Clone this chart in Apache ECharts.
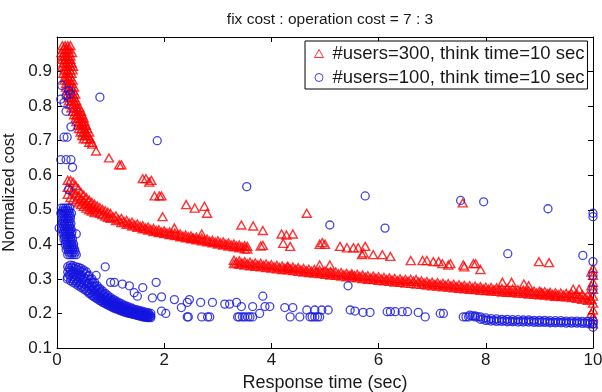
<!DOCTYPE html>
<html>
<head>
<meta charset="utf-8">
<script src="https://cdn.jsdelivr.net/npm/echarts@6/dist/echarts.min.js"></script>
<style>
  html, body { margin: 0; padding: 0; background: #fff; }
  #chart { width: 602px; height: 392px; }
</style>
</head>
<body>
<div id="chart"></div>
<script>
  // 标题和坐标轴文字
  const titleText = 'fix cost : operation cost = 7 : 3'
  const xName = 'Response time (sec)'
  const yName = 'Normalized cost'
  const redName = '#users=300, think time=10 sec'
  const blueName = '#users=100, think time=10 sec'

  // 红色三角：左上角的密集列，每行 [y, x1, x2, ...]
  const redTopRows = [
    [0.975, 0.1, 0.15, 0.2, 0.25],
    [0.965, 0.12, 0.17, 0.22],
    [0.955, 0.08, 0.13, 0.18, 0.23, 0.28],
    [0.945, 0.1, 0.15, 0.2, 0.25],
    [0.935, 0.1, 0.15, 0.2, 0.25],
    [0.925, 0.12, 0.17, 0.22, 0.27],
    [0.915, 0.1, 0.15, 0.2, 0.25, 0.3],
    [0.905, 0.14, 0.19, 0.24, 0.29],
    [0.895, 0.12, 0.17, 0.22, 0.27],
    [0.885, 0.15, 0.2, 0.25],
    [0.875, 0.14, 0.19, 0.24, 0.29],
    [0.865, 0.17, 0.22, 0.27],
    [0.855, 0.17, 0.22, 0.27, 0.32],
    [0.845, 0.2, 0.25, 0.3],
    [0.835, 0.2, 0.25, 0.3, 0.34],
    [0.825, 0.22, 0.27, 0.32],
    [0.815, 0.22, 0.27, 0.32, 0.36],
    [0.805, 0.25, 0.3, 0.35],
    [0.795, 0.27, 0.32, 0.37, 0.42],
    [0.785, 0.3, 0.35, 0.4, 0.45],
    [0.775, 0.32, 0.37, 0.42, 0.47],
    [0.765, 0.35, 0.4, 0.45, 0.5],
    [0.755, 0.36, 0.41, 0.46, 0.51],
    [0.745, 0.39, 0.44, 0.49, 0.54],
    [0.735, 0.41, 0.46, 0.51, 0.56],
    [0.725, 0.44, 0.49, 0.54, 0.6],
    [0.715, 0.47, 0.52, 0.58],
    [0.705, 0.5, 0.55, 0.62],
    [0.695, 0.6, 0.65]
  ]

  // 红色上带，每行 [x, y1, y2, ...]
  const redUpperBand = [
    [0.2, 0.585, 0.565, 0.545], [0.25, 0.585, 0.56, 0.535], [0.3, 0.58, 0.555, 0.53],
    [0.35, 0.57, 0.548, 0.525], [0.4, 0.56, 0.54, 0.52], [0.45, 0.55, 0.532, 0.515],
    [0.5, 0.542, 0.525, 0.51], [0.55, 0.535, 0.518, 0.505], [0.6, 0.528, 0.512, 0.5],
    [0.65, 0.522, 0.507, 0.496], [0.7, 0.516, 0.502, 0.492], [0.75, 0.511, 0.496],
    [0.8, 0.506, 0.49], [0.85, 0.501, 0.486], [0.9, 0.497, 0.482], [0.95, 0.493, 0.478],
    [1.0, 0.489, 0.475], [1.05, 0.479], [1.1, 0.482, 0.469], [1.15, 0.472], [1.2, 0.475, 0.463],
    [1.25, 0.466], [1.3, 0.469, 0.458], [1.35, 0.461], [1.4, 0.464, 0.453], [1.45, 0.456],
    [1.5, 0.459, 0.449], [1.55, 0.452], [1.6, 0.454, 0.445], [1.65, 0.447], [1.7, 0.45, 0.441],
    [1.75, 0.443], [1.8, 0.446, 0.437], [1.85, 0.44], [1.9, 0.442, 0.434], [1.95, 0.436],
    [2.0, 0.439, 0.431], [2.05, 0.433], [2.1, 0.436, 0.428], [2.15, 0.43], [2.2, 0.433, 0.425],
    [2.25, 0.427], [2.3, 0.43, 0.422], [2.35, 0.424], [2.4, 0.427, 0.419], [2.45, 0.421],
    [2.5, 0.424, 0.416], [2.55, 0.418], [2.6, 0.421, 0.413], [2.65, 0.415], [2.7, 0.418, 0.41],
    [2.75, 0.412], [2.8, 0.415, 0.407], [2.85, 0.409], [2.9, 0.412, 0.404], [2.95, 0.406],
    [3.0, 0.41, 0.401], [3.05, 0.404], [3.1, 0.407, 0.398], [3.15, 0.401], [3.2, 0.404, 0.395],
    [3.25, 0.398], [3.3, 0.401, 0.393], [3.35, 0.395], [3.4, 0.398, 0.39], [3.45, 0.393],
    [3.5, 0.396, 0.387], [3.55, 0.394, 0.386]
  ]

  // 红色下带，每行 [x, y1, y2]
  const redLowerBand = [
    [3.3, 0.354, 0.344], [3.35, 0.348], [3.4, 0.352, 0.342], [3.45, 0.346], [3.5, 0.35, 0.34],
    [3.55, 0.344], [3.6, 0.348, 0.338], [3.65, 0.342], [3.7, 0.346, 0.336], [3.75, 0.34],
    [3.8, 0.345, 0.335], [3.85, 0.339], [3.9, 0.343, 0.333], [3.95, 0.337], [4.0, 0.341, 0.331],
    [4.05, 0.335], [4.1, 0.339, 0.329], [4.15, 0.333], [4.2, 0.337, 0.327], [4.25, 0.331],
    [4.3, 0.336, 0.326], [4.35, 0.33], [4.4, 0.334, 0.324], [4.45, 0.328], [4.5, 0.332, 0.322],
    [4.55, 0.326], [4.6, 0.33, 0.32], [4.65, 0.324], [4.7, 0.328, 0.318], [4.75, 0.322],
    [4.8, 0.327, 0.317], [4.85, 0.321], [4.9, 0.325, 0.315], [4.95, 0.319], [5.0, 0.323, 0.313],
    [5.05, 0.317], [5.1, 0.321, 0.311], [5.15, 0.315], [5.2, 0.32, 0.31], [5.25, 0.314],
    [5.3, 0.318, 0.308], [5.35, 0.312], [5.4, 0.316, 0.306], [5.45, 0.31], [5.5, 0.315, 0.305],
    [5.55, 0.309], [5.6, 0.313, 0.303], [5.65, 0.307], [5.7, 0.311, 0.301], [5.75, 0.305],
    [5.8, 0.309, 0.299], [5.85, 0.303], [5.9, 0.308, 0.298], [5.95, 0.302], [6.0, 0.306, 0.296],
    [6.05, 0.3], [6.1, 0.304, 0.294], [6.15, 0.298], [6.2, 0.303, 0.293], [6.25, 0.297],
    [6.3, 0.301, 0.291], [6.35, 0.295], [6.4, 0.3, 0.29], [6.45, 0.294], [6.5, 0.298, 0.288],
    [6.55, 0.293], [6.6, 0.299, 0.287], [6.65, 0.293], [6.7, 0.298, 0.285], [6.75, 0.291],
    [6.8, 0.294, 0.284], [6.85, 0.288], [6.9, 0.292, 0.282], [6.95, 0.286], [7.0, 0.29, 0.28],
    [7.05, 0.284], [7.1, 0.289, 0.279], [7.15, 0.283], [7.2, 0.287, 0.277], [7.25, 0.281],
    [7.3, 0.286, 0.276], [7.35, 0.28], [7.4, 0.284, 0.274], [7.45, 0.278], [7.5, 0.283, 0.273],
    [7.55, 0.277], [7.6, 0.281, 0.271], [7.65, 0.275], [7.7, 0.28, 0.27], [7.75, 0.274],
    [7.8, 0.279, 0.269], [7.85, 0.273], [7.9, 0.277, 0.267], [7.95, 0.271], [8.0, 0.276, 0.266],
    [8.05, 0.27], [8.1, 0.275, 0.265], [8.15, 0.269], [8.2, 0.274, 0.264], [8.25, 0.268],
    [8.3, 0.272, 0.262], [8.35, 0.266], [8.4, 0.271, 0.261], [8.45, 0.265], [8.5, 0.27, 0.26],
    [8.55, 0.264], [8.6, 0.269, 0.259], [8.65, 0.263], [8.7, 0.268, 0.258], [8.75, 0.262],
    [8.8, 0.266, 0.256], [8.85, 0.26], [8.9, 0.265, 0.255], [8.95, 0.259], [9.0, 0.264, 0.254],
    [9.05, 0.258], [9.1, 0.263, 0.253], [9.15, 0.257], [9.2, 0.261, 0.251], [9.25, 0.255],
    [9.3, 0.26, 0.25], [9.35, 0.254], [9.4, 0.259, 0.249], [9.45, 0.253], [9.5, 0.258, 0.248],
    [9.55, 0.252], [9.6, 0.257, 0.246], [9.65, 0.25], [9.7, 0.256, 0.244], [9.75, 0.248],
    [9.8, 0.254, 0.241], [9.85, 0.246], [9.9, 0.252, 0.238], [9.95, 0.243],
    [9.97, 0.32, 0.28, 0.24, 0.2],
    [10.0, 0.33, 0.31, 0.29, 0.27, 0.25, 0.23, 0.21, 0.19, 0.17]
  ]

  // 红色散点 [x, y]
  const redSparse = [
    [0.37, 0.776], [0.47, 0.75], [0.54, 0.72], [0.66, 0.69], [0.73, 0.67], [0.97, 0.65],
    [1.16, 0.63], [1.2, 0.63], [1.6, 0.59], [1.66, 0.59], [1.72, 0.58], [1.76, 0.585],
    [1.82, 0.54], [1.91, 0.54], [1.95, 0.54], [1.97, 0.48], [2.19, 0.447], [2.41, 0.515],
    [2.57, 0.505], [2.75, 0.51], [2.8, 0.49], [2.53, 0.418], [2.7, 0.43], [3.44, 0.456],
    [3.66, 0.453], [3.84, 0.44], [3.84, 0.397], [3.8, 0.395], [4.19, 0.43], [4.28, 0.427],
    [4.4, 0.43], [4.22, 0.403], [4.35, 0.394], [4.31, 0.335], [4.66, 0.49], [4.9, 0.4],
    [5.0, 0.4], [4.95, 0.405], [5.28, 0.394], [5.41, 0.39], [5.53, 0.39], [5.62, 0.39],
    [5.75, 0.394], [5.69, 0.37], [5.72, 0.375], [5.9, 0.37], [6.07, 0.37], [6.22, 0.365],
    [6.6, 0.353], [6.82, 0.353], [6.9, 0.353], [7.02, 0.35], [7.12, 0.35], [7.19, 0.344],
    [7.34, 0.344], [7.3, 0.34], [7.58, 0.34], [7.6, 0.335], [7.77, 0.344], [7.81, 0.344],
    [7.9, 0.327], [4.9, 0.34], [5.09, 0.34], [5.5, 0.31], [7.57, 0.52], [8.31, 0.29],
    [8.48, 0.29], [8.71, 0.285], [8.8, 0.28], [8.99, 0.35], [9.18, 0.347], [9.03, 0.262],
    [9.18, 0.256], [9.3, 0.25], [9.63, 0.27], [9.74, 0.27]
  ]

  // 蓝色圆圈：左侧的竖列，每行 [y, x1, x2, ...]
  const blueColumnRows = [
    [0.505, 0.08, 0.12, 0.16, 0.2, 0.24],
    [0.497, 0.1, 0.14, 0.18, 0.22],
    [0.49, 0.07, 0.11, 0.15, 0.19, 0.23, 0.27],
    [0.482, 0.09, 0.13, 0.17, 0.21, 0.25],
    [0.475, 0.09, 0.13, 0.17, 0.21, 0.25],
    [0.467, 0.11, 0.15, 0.19, 0.23],
    [0.46, 0.1, 0.14, 0.18, 0.22, 0.26],
    [0.452, 0.12, 0.16, 0.2, 0.24],
    [0.445, 0.1, 0.14, 0.18, 0.22, 0.26],
    [0.437, 0.12, 0.16, 0.2, 0.24, 0.28],
    [0.43, 0.11, 0.15, 0.19, 0.23, 0.27],
    [0.422, 0.14, 0.18, 0.22, 0.26],
    [0.415, 0.13, 0.17, 0.21, 0.25, 0.29],
    [0.407, 0.16, 0.2, 0.24, 0.28],
    [0.4, 0.15, 0.19, 0.23, 0.27, 0.31],
    [0.392, 0.19, 0.23, 0.27, 0.31],
    [0.385, 0.17, 0.21, 0.25, 0.29, 0.33],
    [0.377, 0.22, 0.26, 0.3, 0.34],
    [0.37, 0.2, 0.24, 0.28, 0.32, 0.36]
  ]

  // 蓝色下带（左），每行 [x, y1, y2, ...]
  const blueLowerBand = [
    [0.2, 0.335, 0.32, 0.305], [0.225, 0.33, 0.312], [0.25, 0.34, 0.325, 0.31, 0.295],
    [0.275, 0.333, 0.316, 0.3], [0.3, 0.338, 0.322, 0.306, 0.29], [0.325, 0.33, 0.312, 0.295],
    [0.35, 0.335, 0.318, 0.3, 0.285], [0.375, 0.327, 0.308, 0.29], [0.4, 0.333, 0.315, 0.297, 0.28],
    [0.425, 0.324, 0.303, 0.284], [0.45, 0.33, 0.31, 0.29, 0.275], [0.475, 0.32, 0.298, 0.278],
    [0.5, 0.325, 0.305, 0.285, 0.27], [0.525, 0.315, 0.293, 0.273], [0.55, 0.32, 0.3, 0.28, 0.265],
    [0.575, 0.308, 0.286, 0.265], [0.6, 0.31, 0.29, 0.272, 0.258], [0.625, 0.298, 0.277, 0.259],
    [0.65, 0.3, 0.282, 0.265, 0.252], [0.675, 0.288, 0.269, 0.252], [0.7, 0.29, 0.274, 0.258, 0.247],
    [0.725, 0.278, 0.262, 0.247], [0.75, 0.28, 0.266, 0.252, 0.242], [0.775, 0.27, 0.255, 0.242],
    [0.8, 0.272, 0.258, 0.246, 0.237], [0.825, 0.262, 0.248, 0.237], [0.85, 0.265, 0.252, 0.24, 0.232],
    [0.875, 0.255, 0.242, 0.232], [0.9, 0.258, 0.246, 0.235, 0.228], [0.925, 0.248, 0.237, 0.228],
    [0.95, 0.252, 0.24, 0.23, 0.224], [0.975, 0.243, 0.232, 0.224], [1.0, 0.246, 0.235, 0.226, 0.22],
    [1.025, 0.238, 0.228, 0.22], [1.05, 0.241, 0.23, 0.222, 0.216], [1.075, 0.233, 0.223, 0.216],
    [1.1, 0.236, 0.226, 0.218, 0.213], [1.125, 0.229, 0.22, 0.213], [1.15, 0.232, 0.222, 0.215, 0.21],
    [1.175, 0.225, 0.217, 0.21], [1.2, 0.228, 0.218, 0.212, 0.207], [1.225, 0.221, 0.213, 0.207],
    [1.25, 0.224, 0.215, 0.209, 0.204], [1.275, 0.218, 0.21, 0.204], [1.3, 0.221, 0.212, 0.206, 0.202],
    [1.325, 0.215, 0.208, 0.202], [1.35, 0.218, 0.209, 0.203, 0.2], [1.375, 0.212, 0.205, 0.2],
    [1.4, 0.215, 0.206, 0.201, 0.198], [1.425, 0.209, 0.203, 0.198], [1.45, 0.212, 0.204, 0.199, 0.196],
    [1.475, 0.207, 0.2, 0.196], [1.5, 0.21, 0.202, 0.197, 0.194], [1.525, 0.205, 0.198, 0.194],
    [1.55, 0.208, 0.2, 0.195, 0.192], [1.575, 0.203, 0.196, 0.192], [1.6, 0.206, 0.198, 0.193, 0.19],
    [1.625, 0.201, 0.194, 0.19], [1.65, 0.204, 0.196, 0.191, 0.189], [1.675, 0.199, 0.192, 0.189],
    [1.7, 0.202, 0.194, 0.19, 0.188], [1.725, 0.197, 0.19], [1.75, 0.2, 0.192, 0.188]
  ]

  // 蓝色下带（右），每行 [x, y1, y2]
  const blueRightBand = [
    [7.7, 0.195], [7.75, 0.193], [7.8, 0.193], [7.85, 0.19], [7.9, 0.19, 0.183], [7.95, 0.184],
    [8.0, 0.187, 0.18], [8.05, 0.181], [8.1, 0.185, 0.178], [8.15, 0.18], [8.2, 0.184, 0.177],
    [8.25, 0.179], [8.3, 0.183, 0.177], [8.35, 0.179], [8.4, 0.183, 0.176], [8.45, 0.178],
    [8.5, 0.182, 0.176], [8.55, 0.178], [8.6, 0.182, 0.175], [8.65, 0.177], [8.7, 0.181, 0.175],
    [8.75, 0.177], [8.8, 0.181, 0.175], [8.85, 0.177], [8.9, 0.18, 0.174], [8.95, 0.176],
    [9.0, 0.18, 0.174], [9.05, 0.176], [9.1, 0.18, 0.174], [9.15, 0.176], [9.2, 0.179, 0.173],
    [9.25, 0.175], [9.3, 0.179, 0.173], [9.35, 0.175], [9.4, 0.179, 0.173], [9.45, 0.175],
    [9.5, 0.178, 0.172], [9.55, 0.174], [9.6, 0.178, 0.172], [9.65, 0.174], [9.7, 0.178, 0.172],
    [9.75, 0.174], [9.8, 0.177, 0.171], [9.85, 0.173], [9.9, 0.177, 0.171], [9.95, 0.173],
    [10.0, 0.177, 0.17]
  ]

  // 蓝色散点 [x, y]
  const blueSparse = [
    [0.09, 0.86], [0.22, 0.845], [0.07, 0.82], [0.17, 0.83], [0.25, 0.835], [0.13, 0.81],
    [0.17, 0.785], [0.26, 0.74], [0.13, 0.71], [0.19, 0.71], [0.8, 0.826], [1.87, 0.7],
    [0.07, 0.645], [0.17, 0.645], [0.26, 0.645], [0.29, 0.623], [0.22, 0.558], [0.04, 0.447],
    [0.36, 0.43], [0.19, 0.3], [0.73, 0.31], [0.9, 0.335], [1.0, 0.29], [1.07, 0.29],
    [1.22, 0.285], [1.35, 0.28], [1.44, 0.26], [1.5, 0.25], [1.6, 0.275], [1.78, 0.245],
    [1.85, 0.29], [1.95, 0.248], [1.95, 0.207], [2.03, 0.2], [2.19, 0.24], [2.32, 0.217],
    [2.43, 0.232], [2.47, 0.24], [2.43, 0.19], [2.45, 0.19], [2.68, 0.232], [2.7, 0.19],
    [2.81, 0.19], [2.85, 0.19], [2.9, 0.232], [3.13, 0.227], [3.22, 0.227], [3.35, 0.232],
    [3.44, 0.22], [3.37, 0.19], [3.46, 0.19], [3.56, 0.19], [3.65, 0.19], [3.4, 0.19],
    [3.5, 0.19], [3.6, 0.19], [3.65, 0.22], [3.84, 0.25], [3.88, 0.22], [3.97, 0.22],
    [3.78, 0.2], [3.54, 0.567], [4.25, 0.217], [4.4, 0.217], [4.35, 0.19], [4.53, 0.19],
    [4.66, 0.21], [4.81, 0.21], [4.94, 0.21], [5.06, 0.21], [4.72, 0.19], [4.81, 0.19],
    [4.9, 0.19], [4.76, 0.19], [4.86, 0.19], [5.47, 0.21], [5.56, 0.207], [5.71, 0.203],
    [5.84, 0.203], [6.16, 0.205], [6.22, 0.205], [6.31, 0.205], [6.44, 0.205], [6.54, 0.205],
    [6.74, 0.203], [6.87, 0.19], [7.15, 0.2], [7.21, 0.2], [7.58, 0.19], [7.63, 0.19],
    [7.68, 0.19], [7.8, 0.19], [5.75, 0.54], [5.09, 0.456], [6.12, 0.447], [5.43, 0.28],
    [7.53, 0.527], [7.96, 0.523], [8.41, 0.373], [9.16, 0.503], [9.81, 0.368],
    [10, 0.49], [10, 0.48], [10, 0.35], [10, 0.31], [10, 0.27], [10, 0.16], [10, 0.17]
  ]

  // [x, y1, y2...] 展开成点
  const fromXRows = (rows) => {
    const pts = []
    rows.forEach((r) => {
      for (let i = 1; i < r.length; i++) pts.push([r[0], r[i]])
    })
    return pts
  }
  // [y, x1, x2...] 展开成点
  const fromYRows = (rows) => {
    const pts = []
    rows.forEach((r) => {
      for (let i = 1; i < r.length; i++) pts.push([r[i], r[0]])
    })
    return pts
  }

  const redData = [].concat(fromYRows(redTopRows), fromXRows(redUpperBand), fromXRows(redLowerBand), redSparse)
  const blueData = [].concat(fromYRows(blueColumnRows), fromXRows(blueLowerBand), fromXRows(blueRightBand), blueSparse)

  const red = '#ff0000'
  const blue = '#1515e0'
  const font = 'Liberation Sans, Arial, sans-serif'
  const txt = '#1a1a1a'

  const baseX = {
    type: 'value',
    min: 0,
    max: 10,
    interval: 2,
    splitLine: { show: false },
    axisLine: { show: true, onZero: false, lineStyle: { color: '#000', width: 1 } },
    axisTick: { show: true, inside: true, length: 5, lineStyle: { color: '#000' } }
  }
  const baseY = {
    type: 'value',
    min: 0.1,
    max: 1.0,
    interval: 0.1,
    splitLine: { show: false },
    axisLine: { show: true, onZero: false, lineStyle: { color: '#000', width: 1 } },
    axisTick: { show: true, inside: true, length: 5, lineStyle: { color: '#000' } }
  }

  const chart = echarts.init(document.getElementById('chart'), null, { renderer: 'canvas' })
  chart.setOption({
    animation: false,
    backgroundColor: '#fff',
    title: {
      text: titleText,
      left: 325,
      top: 7,
      textAlign: 'center',
      textStyle: { fontFamily: font, fontSize: 15.5, fontWeight: 'normal', color: txt }
    },
    legend: {
      left: 305,
      top: 41,
      orient: 'vertical',
      backgroundColor: '#fff',
      borderColor: '#000',
      borderWidth: 1,
      borderRadius: 0,
      padding: [3, 3, 2, 9],
      itemGap: 5,
      itemWidth: 9,
      itemHeight: 8,
      textStyle: { fontFamily: font, fontSize: 18.5, color: txt, padding: [0, 0, 0, 4] },
      data: [
        { name: redName, icon: 'triangle', itemStyle: { color: 'rgba(0,0,0,0)', borderColor: red, borderWidth: 1 } },
        { name: blueName, icon: 'circle', itemStyle: { color: 'rgba(0,0,0,0)', borderColor: blue, borderWidth: 1 } }
      ]
    },
    grid: { left: 57, right: 9, top: 37, bottom: 44, containLabel: false, outerBoundsMode: 'none' },
    xAxis: [
      Object.assign({}, baseX, {
        position: 'bottom',
        name: xName,
        nameLocation: 'middle',
        nameGap: 22,
        nameTextStyle: { fontFamily: font, fontSize: 18, color: txt },
        axisLabel: { fontFamily: font, fontSize: 17, color: txt, margin: 4 }
      }),
      Object.assign({}, baseX, { position: 'top', axisLabel: { show: false } })
    ],
    yAxis: [
      Object.assign({}, baseY, {
        position: 'left',
        name: yName,
        nameLocation: 'middle',
        nameGap: 31,
        nameTextStyle: { fontFamily: font, fontSize: 16.5, color: txt },
        axisLabel: { fontFamily: font, fontSize: 17, color: txt, margin: 5, showMaxLabel: false }
      }),
      Object.assign({}, baseY, { position: 'right', axisLabel: { show: false } })
    ],
    series: [
      {
        name: redName,
        type: 'scatter',
        symbol: 'triangle',
        symbolSize: [9, 8],
        data: redData,
        itemStyle: { color: 'rgba(0,0,0,0)', borderColor: red, borderWidth: 1.4 },
        emphasis: { disabled: true },
        z: 2
      },
      {
        name: blueName,
        type: 'scatter',
        symbol: 'circle',
        symbolSize: 8,
        data: blueData,
        itemStyle: { color: 'rgba(0,0,0,0)', borderColor: blue, borderWidth: 1.3 },
        emphasis: { disabled: true },
        z: 3
      }
    ]
  })
</script>
</body>
</html>
